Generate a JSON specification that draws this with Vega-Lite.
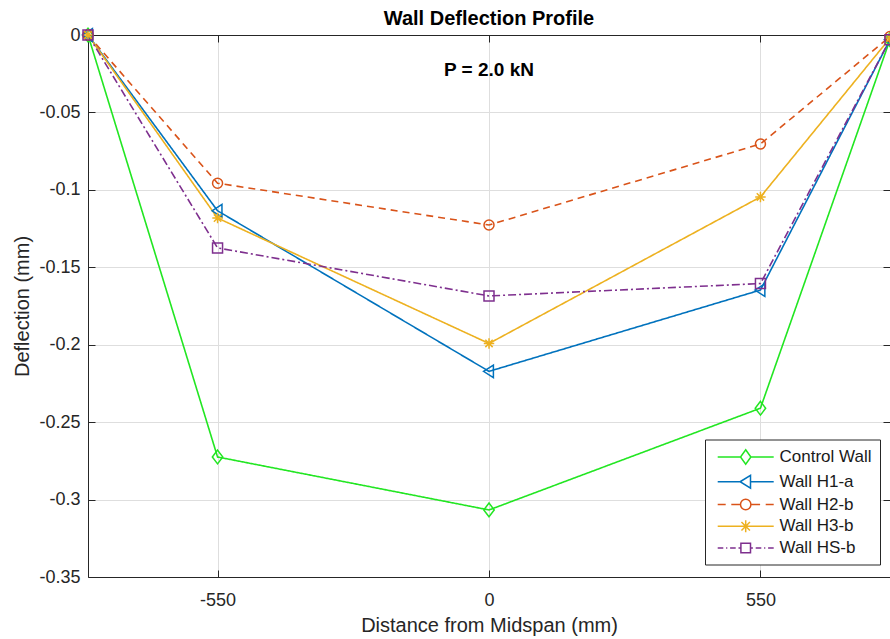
{
  "$schema": "https://vega.github.io/schema/vega-lite/v6.json",
  "width": 802,
  "height": 542,
  "autosize": {"type": "none"},
  "padding": {"left": 88, "top": 35, "right": 0, "bottom": 62},
  "background": "white",
  "title": {"text": "Wall Deflection Profile", "fontSize": 20, "fontWeight": "bold", "color": "#000000", "anchor": "middle", "offset": -4, "font": "Liberation Sans"},
  "config": {
    "view": {"stroke": null},
    "font": "Liberation Sans",
    "axis": {
      "domainColor": "#262626",
      "tickColor": "#262626",
      "labelColor": "#262626",
      "titleColor": "#262626",
      "labelFont": "Liberation Sans",
      "titleFont": "Liberation Sans",
      "labelFontSize": 18,
      "titleFontSize": 20,
      "titleFontWeight": "normal",
      "tickSize": -7,
      "gridColor": "#dedede",
      "domainWidth": 1
    },
    "legend": {
      "labelFont": "Liberation Sans",
      "labelFontSize": 17,
      "labelColor": "#1a1a1a",
      "symbolSize": 256,
      "symbolStrokeWidth": 1.5,
      "labelOffset": 48,
      "padding": 8.5,
      "rowPadding": 3.75,
      "strokeColor": "#262626",
      "fillColor": "white",
      "cornerRadius": 0
    }
  },
  "datasets": {
    "deflection": [
      {"series": "Control Wall", "distance": -812.5, "deflection": 0},
      {"series": "Control Wall", "distance": -550, "deflection": -0.2725},
      {"series": "Control Wall", "distance": 0, "deflection": -0.3067},
      {"series": "Control Wall", "distance": 550, "deflection": -0.241},
      {"series": "Control Wall", "distance": 812.5, "deflection": -0.003},
      {"series": "Wall H1-a", "distance": -812.5, "deflection": 0},
      {"series": "Wall H1-a", "distance": -550, "deflection": -0.1135},
      {"series": "Wall H1-a", "distance": 0, "deflection": -0.2172},
      {"series": "Wall H1-a", "distance": 550, "deflection": -0.1647},
      {"series": "Wall H1-a", "distance": 812.5, "deflection": -0.003},
      {"series": "Wall H2-b", "distance": -812.5, "deflection": 0},
      {"series": "Wall H2-b", "distance": -550, "deflection": -0.0957},
      {"series": "Wall H2-b", "distance": 0, "deflection": -0.1227},
      {"series": "Wall H2-b", "distance": 550, "deflection": -0.0704},
      {"series": "Wall H2-b", "distance": 812.5, "deflection": -0.001},
      {"series": "Wall H3-b", "distance": -812.5, "deflection": 0},
      {"series": "Wall H3-b", "distance": -550, "deflection": -0.1182},
      {"series": "Wall H3-b", "distance": 0, "deflection": -0.1992},
      {"series": "Wall H3-b", "distance": 550, "deflection": -0.1046},
      {"series": "Wall H3-b", "distance": 812.5, "deflection": -0.002},
      {"series": "Wall HS-b", "distance": -812.5, "deflection": 0},
      {"series": "Wall HS-b", "distance": -550, "deflection": -0.1375},
      {"series": "Wall HS-b", "distance": 0, "deflection": -0.1685},
      {"series": "Wall HS-b", "distance": 550, "deflection": -0.1605},
      {"series": "Wall HS-b", "distance": 812.5, "deflection": -0.003}
    ],
    "note": [
      {"x": 0, "y": -0.0226, "label": "P = 2.0 kN"}
    ]
  },
  "layer": [
    {
      "data": {"name": "deflection"},
      "mark": {"type": "line", "strokeWidth": 1.6},
      "encoding": {
        "x": {
          "field": "distance", "type": "quantitative",
          "scale": {"domain": [-812.5, 812.5], "nice": false, "zero": false},
          "axis": {"orient": "bottom", "values": [-550, 0, 550], "labelExpr": "datum.value < 0 ? '-' + (-datum.value) : '' + datum.value", "labelPadding": 21, "titlePadding": 6, "title": "Distance from Midspan (mm)", "grid": true}
        },
        "y": {
          "field": "deflection", "type": "quantitative",
          "scale": {"domain": [-0.35, 0], "nice": false, "zero": false},
          "axis": {"orient": "left", "values": [-0.35, -0.3, -0.25, -0.2, -0.15, -0.1, -0.05, 0], "labelExpr": "datum.value < 0 ? '-' + format(-datum.value, '.2~f') : '0'", "labelPadding": 15, "titlePadding": 6, "title": "Deflection (mm)", "grid": true}
        },
        "color": {
          "field": "series", "type": "nominal",
          "scale": {"domain": ["Control Wall", "Wall H1-a", "Wall H2-b", "Wall H3-b", "Wall HS-b"], "range": ["#22e622", "#0072BD", "#D95319", "#EDB120", "#7E2F8E"]}
        },
        "strokeDash": {
          "field": "series", "type": "nominal",
          "scale": {"domain": ["Wall H2-b", "Wall HS-b", "Control Wall", "Wall H1-a", "Wall H3-b"], "range": [[7, 5], [8, 3, 2, 3], [1, 0], [1, 0], [1, 0]]},
          "legend": null
        }
      }
    },
    {
      "data": {"name": "deflection"},
      "transform": [{"filter": "datum.series === 'Control Wall'"}],
      "mark": {"type": "point", "shape": "M0,-1.25L0.95,0L0,1.25L-0.95,0Z", "filled": false, "size": 121, "strokeWidth": 1.5, "opacity": 1},
      "encoding": {
        "x": {"field": "distance", "type": "quantitative", "axis": null},
        "y": {"field": "deflection", "type": "quantitative", "axis": null},
        "color": {"field": "series", "type": "nominal"}
      }
    },
    {
      "data": {"name": "deflection"},
      "transform": [{"filter": "datum.series === 'Wall H1-a'"}],
      "mark": {"type": "point", "shape": "M-1,0L0.8,-1.15L0.8,1.15Z", "filled": false, "size": 121, "strokeWidth": 1.5, "opacity": 1},
      "encoding": {
        "x": {"field": "distance", "type": "quantitative", "axis": null},
        "y": {"field": "deflection", "type": "quantitative", "axis": null},
        "color": {"field": "series", "type": "nominal"}
      }
    },
    {
      "data": {"name": "deflection"},
      "transform": [{"filter": "datum.series === 'Wall H2-b'"}],
      "mark": {"type": "point", "shape": "circle", "filled": false, "size": 100, "strokeWidth": 1.5, "opacity": 1},
      "encoding": {
        "x": {"field": "distance", "type": "quantitative", "axis": null},
        "y": {"field": "deflection", "type": "quantitative", "axis": null},
        "color": {"field": "series", "type": "nominal"}
      }
    },
    {
      "data": {"name": "deflection"},
      "transform": [{"filter": "datum.series === 'Wall H3-b'"}],
      "mark": {"type": "point", "shape": "M-1,0L1,0M0,-1L0,1M-0.7,-0.7L0.7,0.7M-0.7,0.7L0.7,-0.7", "filled": false, "size": 110, "strokeWidth": 1.5, "opacity": 1},
      "encoding": {
        "x": {"field": "distance", "type": "quantitative", "axis": null},
        "y": {"field": "deflection", "type": "quantitative", "axis": null},
        "color": {"field": "series", "type": "nominal"}
      }
    },
    {
      "data": {"name": "deflection"},
      "transform": [{"filter": "datum.series === 'Wall HS-b'"}],
      "mark": {"type": "point", "shape": "square", "filled": false, "size": 100, "strokeWidth": 1.5, "opacity": 1},
      "encoding": {
        "x": {"field": "distance", "type": "quantitative", "axis": null},
        "y": {"field": "deflection", "type": "quantitative", "axis": null},
        "color": {"field": "series", "type": "nominal"}
      }
    },
    {
      "data": {"name": "deflection"},
      "mark": {"type": "point", "filled": false, "size": 256, "strokeWidth": 1.5, "opacity": 0},
      "encoding": {
        "x": {"field": "distance", "type": "quantitative", "axis": null},
        "y": {"field": "deflection", "type": "quantitative", "axis": null},
        "color": {
          "field": "series", "type": "nominal",
          "legend": {"title": null, "orient": "none", "legendX": 617, "legendY": 404.5, "symbolStrokeWidth": 1.5, "symbolSize": 256}
        },
        "shape": {
          "field": "series", "type": "nominal",
          "scale": {
            "domain": ["Control Wall", "Wall H1-a", "Wall H2-b", "Wall H3-b", "Wall HS-b"],
            "range": [
              "M-0.6,0L2.25,0M3.55,0L6.4,0M2.9,-0.9L3.55,0L2.9,0.9L2.25,0Z",
              "M-0.6,0L2.2,0M3.5,0L6.4,0M2.2,0L3.5,-0.8L3.5,0.8Z",
              "M-0.6,0L0.4,0M1.1,0L2.25,0M3.55,0L4.7,0M5.4,0L6.4,0M3.55,0A0.65,0.65,0,1,1,2.25,0A0.65,0.65,0,1,1,3.55,0",
              "M-0.6,0L6.4,0M2.9,-0.75L2.9,0.75M2.37,-0.53L3.43,0.53M2.37,0.53L3.43,-0.53",
              "M-0.6,0L0.1,0M0.45,0L0.6,0M0.95,0L1.65,0M2,0L2.3,0M3.5,0L3.8,0M4.15,0L4.85,0M5.2,0L5.35,0M5.7,0L6.4,0M2.3,-0.6L3.5,-0.6L3.5,0.6L2.3,0.6Z"
            ]
          },
          "legend": {"title": null, "orient": "none", "legendX": 617, "legendY": 404.5, "symbolStrokeWidth": 1.5, "symbolSize": 256}
        }
      }
    },
    {
      "data": {"name": "note"},
      "mark": {"type": "text", "fontSize": 19, "fontWeight": "bold", "color": "#000000", "baseline": "middle", "align": "center", "font": "Liberation Sans"},
      "encoding": {
        "x": {"field": "x", "type": "quantitative", "axis": {"orient": "top", "labels": false, "grid": false, "title": null, "values": [-550, 0, 550], "tickSize": -7}},
        "y": {"field": "y", "type": "quantitative", "axis": {"orient": "right", "labels": false, "grid": false, "title": null, "values": [-0.35, -0.3, -0.25, -0.2, -0.15, -0.1, -0.05, 0], "tickSize": -7}},
        "text": {"field": "label"}
      }
    }
  ],
  "resolve": {"axis": {"x": "independent", "y": "independent"}}
}
